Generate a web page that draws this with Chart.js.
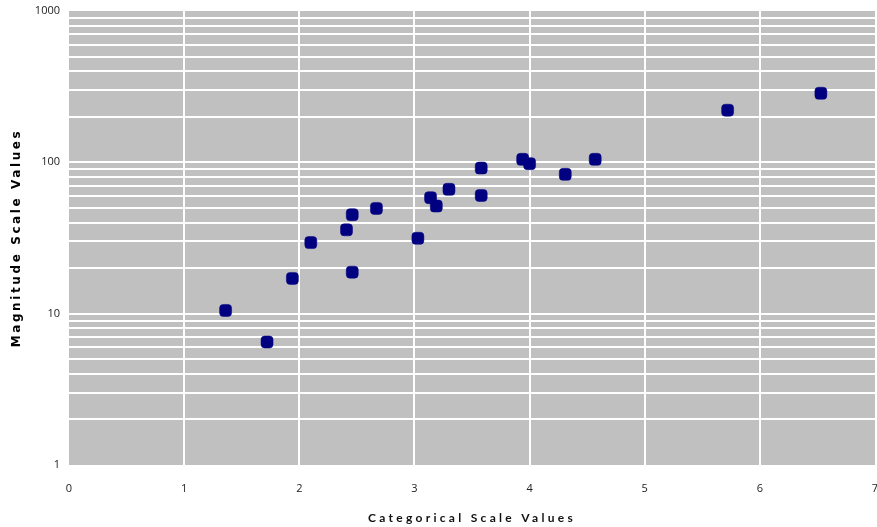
<!DOCTYPE html>
<html>
<head>
<meta charset="utf-8">
<script src="https://cdn.jsdelivr.net/npm/chart.js@4/dist/chart.umd.min.js"></script>
<style>
  html, body { margin: 0; padding: 0; background: #ffffff; }
  #wrap { width: 877px; height: 527px; }
</style>
</head>
<body>
<div id="wrap"><canvas id="chart" width="877" height="527"></canvas></div>
<script>
// Observations: categorical position vs. magnitude
const xValues = [1.36, 1.72, 1.94, 2.10, 2.41, 2.46, 2.46, 2.67, 3.03, 3.14,
                 3.19, 3.30, 3.58, 3.58, 3.94, 4.00, 4.31, 4.57, 5.72, 6.53];
const yValues = [10.5, 6.5, 17.1, 29.5, 35.8, 45.1, 18.8, 49.6, 31.5, 58.4,
                 51.4, 66.3, 91.7, 60.4, 104.7, 98, 83.3, 104.7, 221, 286];

// Axis ticks
const xTickValues = [0, 1, 2, 3, 4, 5, 6, 7];
const yDecades = [1, 10, 100, 1000];
const yDecadeLabels = ['1', '10', '100', '1000'];
const yGridValues = [1, 2, 3, 4, 5, 6, 7, 8, 9,
                     10, 20, 30, 40, 50, 60, 70, 80, 90,
                     100, 200, 300, 400, 500, 600, 700, 800, 900, 1000];

const xTitle = 'Categorical Scale Values';
const yTitle = 'Magnitude Scale Values';

const points = xValues.map((x, i) => ({ x: x, y: yValues[i] }));

// Grey plotting area behind the grid
const plotBackground = {
  id: 'plotBackground',
  beforeDraw(chart) {
    const { ctx, chartArea: a } = chart;
    ctx.save();
    ctx.fillStyle = '#C0C0C0';
    ctx.fillRect(a.left, a.top, a.right - a.left, a.bottom - a.top);
    ctx.restore();
  }
};

// Axis titles are drawn with extra letter spacing
const spacedTitles = {
  id: 'spacedTitles',
  beforeDraw(chart) {
    const spacing = { x: '3.3px', y: '2.6px' };
    for (const id of ['x', 'y']) {
      const scale = chart.scales[id];
      if (scale && !scale._spacedTitle) {
        const original = scale.drawTitle.bind(scale);
        scale.drawTitle = function () {
          const c = this.ctx;
          c.save();
          c.letterSpacing = spacing[id];
          original();
          c.restore();
        };
        scale._spacedTitle = true;
      }
    }
  }
};

const edgeless = (ctx) => {
  const n = ctx.scale.ticks.length;
  return (ctx.index === 0 || ctx.index === n - 1) ? 'rgba(0,0,0,0)' : '#FFFFFF';
};

Chart.defaults.font.family = '"Open Sans", "DejaVu Sans", sans-serif';

new Chart(document.getElementById('chart'), {
  type: 'scatter',
  data: {
    datasets: [{
      label: yTitle,
      data: points,
      pointStyle: 'rectRounded',
      pointRadius: 7,
      pointHoverRadius: 7,
      backgroundColor: '#000080',
      borderColor: '#000080',
      borderWidth: 0.5,
      clip: false
    }]
  },
  options: {
    responsive: false,
    animation: false,
    events: [],
    layout: { autoPadding: false, padding: { left: 0, right: 2, top: 11, bottom: 0 } },
    plugins: {
      legend: { display: false },
      tooltip: { enabled: false }
    },
    scales: {
      x: {
        type: 'linear',
        min: 0,
        max: 7,
        afterBuildTicks(scale) {
          scale.ticks = xTickValues.map(v => ({ value: v }));
        },
        afterFit(scale) {
          scale.height = 62;
          scale.paddingLeft = 0;
          scale.paddingRight = 0;
        },
        border: { display: false },
        grid: { color: edgeless, lineWidth: 2, drawTicks: false },
        ticks: {
          padding: 17,
          color: '#222222',
          font: { size: 11 },
          maxRotation: 0,
          autoSkip: false
        },
        title: {
          display: true,
          text: xTitle,
          color: '#111111',
          font: { family: 'Lato, "Open Sans", sans-serif', size: 12, weight: 'bold' },
          padding: { top: 0, bottom: 2 }
        }
      },
      y: {
        type: 'logarithmic',
        min: 1,
        max: 1000,
        afterBuildTicks(scale) {
          scale.ticks = yGridValues.map(v => ({ value: v }));
        },
        afterFit(scale) {
          scale.width = 69;
          scale.paddingTop = 0;
          scale.paddingBottom = 0;
        },
        border: { display: false },
        grid: { color: edgeless, lineWidth: 2, drawTicks: false },
        ticks: {
          padding: 9,
          color: '#222222',
          font: { size: 11 },
          autoSkip: false,
          callback(value) {
            const k = yDecades.indexOf(value);
            return k >= 0 ? yDecadeLabels[k] : '';
          }
        },
        title: {
          display: true,
          text: yTitle,
          color: '#000000',
          font: { family: '"DejaVu Sans", sans-serif', size: 12, weight: 'bold' },
          padding: { top: 10, bottom: 0 }
        }
      }
    }
  },
  plugins: [plotBackground, spacedTitles]
});
</script>
</body>
</html>
